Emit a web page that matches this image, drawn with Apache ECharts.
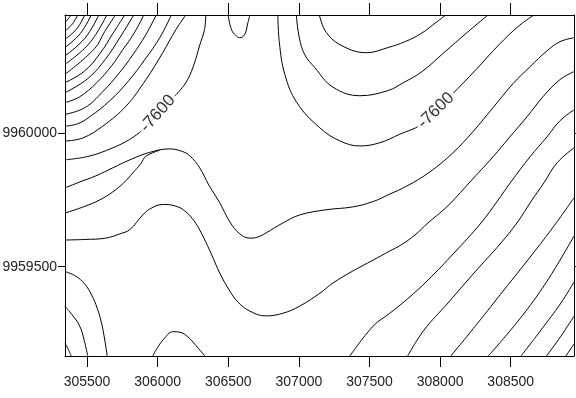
<!DOCTYPE html>
<html>
<head>
<meta charset="utf-8">
<script src="https://cdn.jsdelivr.net/npm/echarts@6.0.0/dist/echarts.min.js"></script>
<style>
  html, body { margin: 0; padding: 0; background: #fff; }
  #chart { width: 576px; height: 398px; }
</style>
</head>
<body>
<div id="chart"></div>
<script>
// map extent (easting / northing)
const xMin = 305344, xMax = 308948
const yMin = 9959166, yMax = 9960442
const xTicks = [305500, 306000, 306500, 307000, 307500, 308000, 308500]
const yTicks = [9959500, 9960000]

// contour lines, [easting, northing]
const cornerLines = [
  [[305388, 9960442], [305344, 9960413]],
  [[305434, 9960442], [305397, 9960409], [305344, 9960382]],
  [[305484, 9960442], [305427, 9960390], [305344, 9960351]],
  [[305530, 9960442], [305453, 9960373], [305344, 9960320]],
  [[305583, 9960442], [305485, 9960355], [305344, 9960289]],
  [[305640, 9960442], [305518, 9960337], [305344, 9960257]],
  [[305701, 9960442], [305625, 9960380], [305553, 9960316], [305344, 9960220]],
  [[305767, 9960442], [305682, 9960372], [305591, 9960297], [305477, 9960230], [305344, 9960189]],
  [[305831, 9960442], [305732, 9960357], [305629, 9960276], [305505, 9960204], [305344, 9960151]],
  [[305902, 9960442], [305831, 9960372], [305753, 9960312], [305674, 9960252], [305569, 9960189], [305448, 9960136], [305344, 9960114]],
  [[305990, 9960442], [305916, 9960368], [305824, 9960293], [305728, 9960225], [305611, 9960155], [305484, 9960095], [305344, 9960070]],
  [[306097, 9960442], [306015, 9960357], [305909, 9960275], [305795, 9960196], [305661, 9960121], [305519, 9960061], [305434, 9960035], [305344, 9960026]],
  [[306199, 9960442], [306130, 9960388], [306036, 9960301], [305918, 9960201], [305776, 9960101], [305611, 9960026], [305470, 9959982], [305344, 9959970]]
]

const leftContour7600 = [
  [306341, 9960442], [306332, 9960388], [306296, 9960326], [306261, 9960263], [306213, 9960201],
  [306157, 9960159], [306107, 9960132], [306001, 9960072], [305895, 9960013], [305800, 9959976],
  [305682, 9959945], [305517, 9959914], [305344, 9959900]
]

const topBump = [
  [306499, 9960442], [306523, 9960387], [306556, 9960364], [306580, 9960357],
  [306615, 9960368], [306639, 9960413], [306653, 9960442]
]

const rightContour7600 = [
  [306851, 9960442], [306862, 9960338], [306901, 9960219], [306986, 9960114], [307148, 9960020],
  [307290, 9959971], [307432, 9959952], [307573, 9959964], [307715, 9959996], [307864, 9960031],
  [307971, 9960084], [308076, 9960140], [308253, 9960237], [308417, 9960331], [308559, 9960402],
  [308665, 9960442]
]

const innerBowl = [
  [306982, 9960442], [307003, 9960357], [307042, 9960293], [307113, 9960245], [307241, 9960172],
  [307432, 9960140], [307630, 9960159], [307744, 9960190], [307871, 9960230], [308027, 9960301],
  [308190, 9960376], [308339, 9960442]
]

const innermostBowl = [
  [307145, 9960442], [307195, 9960376], [307312, 9960325], [307478, 9960301], [307630, 9960320],
  [307750, 9960342], [307864, 9960372], [307978, 9960417], [308041, 9960442]
]

const upperHump = [
  [305344, 9959795], [305448, 9959817], [305562, 9959840], [305682, 9959870], [305803, 9959900],
  [305944, 9959928], [306086, 9959941], [306171, 9959932], [306228, 9959915], [306298, 9959870],
  [306362, 9959806], [306440, 9959739], [306511, 9959668], [306582, 9959623], [306653, 9959607],
  [306709, 9959611], [306766, 9959626], [306887, 9959664], [307007, 9959694], [307191, 9959713],
  [307382, 9959724], [307526, 9959744], [307644, 9959772], [307765, 9959802], [307928, 9959855],
  [308090, 9959926], [308232, 9960005], [308374, 9960095], [308516, 9960185], [308636, 9960248],
  [308757, 9960308], [308848, 9960342], [308948, 9960357]
]

const humpFlank = [
  [305344, 9959701], [305484, 9959726], [305590, 9959750], [305682, 9959780], [305760, 9959814],
  [305824, 9959851], [305880, 9959885], [305916, 9959913], [306015, 9959936]
]

const lowerHump = [
  [305344, 9959600], [305484, 9959602], [305632, 9959607], [305732, 9959623], [305803, 9959639],
  [305895, 9959694], [305944, 9959716], [306036, 9959733], [306121, 9959728], [306192, 9959709],
  [306263, 9959668], [306320, 9959615], [306383, 9959544], [306440, 9959476], [306511, 9959409],
  [306568, 9959368], [306653, 9959334], [306766, 9959316], [306887, 9959326], [307007, 9959353],
  [307149, 9959401], [307241, 9959439], [307382, 9959484], [307526, 9959525], [307644, 9959559],
  [307722, 9959581], [307822, 9959619], [307914, 9959664], [307998, 9959701], [308076, 9959739],
  [308211, 9959817], [308374, 9959911], [308494, 9959986], [308615, 9960061], [308728, 9960136],
  [308848, 9960200], [308948, 9960230]
]

const slopeLines = [
  [[307361, 9959166], [307526, 9959278], [307644, 9959326], [307772, 9959381], [307914, 9959450],
   [308098, 9959551], [308290, 9959664], [308403, 9959744], [308501, 9959817], [308636, 9959911],
   [308757, 9959986], [308848, 9960046], [308948, 9960087]],
  [[307770, 9959166], [307886, 9959263], [308055, 9959364], [308239, 9959476], [308431, 9959589],
   [308544, 9959664], [308651, 9959750], [308735, 9959814], [308828, 9959889], [308948, 9959945]],
  [[308076, 9959166], [308266, 9959289], [308452, 9959413], [308643, 9959540], [308807, 9959653], [308948, 9959758]],
  [[308341, 9959166], [308501, 9959264], [308665, 9959375], [308807, 9959488], [308948, 9959615]],
  [[308573, 9959166], [308714, 9959263], [308855, 9959364], [308948, 9959443]],
  [[308753, 9959166], [308855, 9959240], [308948, 9959315]],
  [[308891, 9959166], [308948, 9959211]]
]

const lowerLeftLines = [
  [[305344, 9959482], [305420, 9959465], [305484, 9959435], [305533, 9959394], [305572, 9959345],
   [305601, 9959293], [305622, 9959237], [305643, 9959166]],
  [[305344, 9959351], [305392, 9959322], [305448, 9959278], [305480, 9959225], [305505, 9959166]],
  [[305344, 9959214], [305367, 9959191], [305388, 9959166]]
]

const bottomBump = [
  [305965, 9959166], [306001, 9959199], [306043, 9959229], [306107, 9959257],
  [306157, 9959255], [306213, 9959238], [306270, 9959206], [306334, 9959166]
]

const labelText = ['-7600', '-7600']
const labelAt = [[306001, 9960073], [307971, 9960085]]
const labelAngle = [48, 44]

const chart = echarts.init(document.getElementById('chart'))

const contours = [
  ...cornerLines, leftContour7600, topBump, rightContour7600, innerBowl, innermostBowl,
  upperHump, humpFlank, lowerHump, ...slopeLines, ...lowerLeftLines, bottomBump
]

const tickFont = "'Liberation Sans', Arial, sans-serif"

const series = contours.map((pts) => ({
  type: 'line',
  data: pts,
  symbol: 'none',
  smooth: 0.4,
  silent: true,
  clip: true,
  lineStyle: { color: '#000', width: 1 },
}))

series.push({
  type: 'scatter',
  symbol: 'circle',
  symbolSize: 1,
  itemStyle: { color: 'rgba(0,0,0,0)' },
  silent: true,
  z: 5,
  data: labelAt.map((p, i) => ({
    value: p,
    label: { rotate: labelAngle[i], formatter: labelText[i] },
  })),
  label: {
    show: true,
    position: 'inside',
    color: '#000',
    fontFamily: "'Liberation Sans', Arial, sans-serif",
    fontSize: 17,
    backgroundColor: '#fff',
    padding: [0, 3],
  },
})

const axisLine = { show: true, onZero: false, lineStyle: { color: '#000', width: 1 } }

chart.setOption({
  animation: false,
  backgroundColor: '#fff',
  grid: { left: 65, right: 2, top: 15, bottom: 42, containLabel: false, outerBoundsMode: 'none' },
  xAxis: [
    {
      type: 'value', position: 'bottom', min: xMin, max: xMax,
      axisLine,
      axisTick: { show: true, inside: false, length: 11, customValues: xTicks, lineStyle: { color: '#000' } },
      axisLabel: {
        show: true, customValues: xTicks, margin: 19, color: '#222',
        fontFamily: tickFont, fontSize: 14, formatter: (v) => String(v),
      },
      splitLine: { show: false },
    },
    {
      type: 'value', position: 'top', min: xMin, max: xMax,
      axisLine,
      axisTick: { show: true, inside: false, length: 12, customValues: xTicks, lineStyle: { color: '#000' } },
      axisLabel: { show: false },
      splitLine: { show: false },
    },
  ],
  yAxis: [
    {
      type: 'value', position: 'left', min: yMin, max: yMax,
      axisLine,
      axisTick: { show: true, inside: false, length: 7, customValues: yTicks, lineStyle: { color: '#000' } },
      axisLabel: {
        show: true, customValues: yTicks, margin: 8, color: '#222',
        fontFamily: tickFont, fontSize: 14, formatter: (v) => String(v),
      },
      splitLine: { show: false },
    },
    {
      type: 'value', position: 'right', min: yMin, max: yMax,
      axisLine,
      axisTick: { show: true, inside: false, length: 7, customValues: yTicks, lineStyle: { color: '#000' } },
      axisLabel: { show: false },
      splitLine: { show: false },
    },
  ],
  series,
})
</script>
</body>
</html>
